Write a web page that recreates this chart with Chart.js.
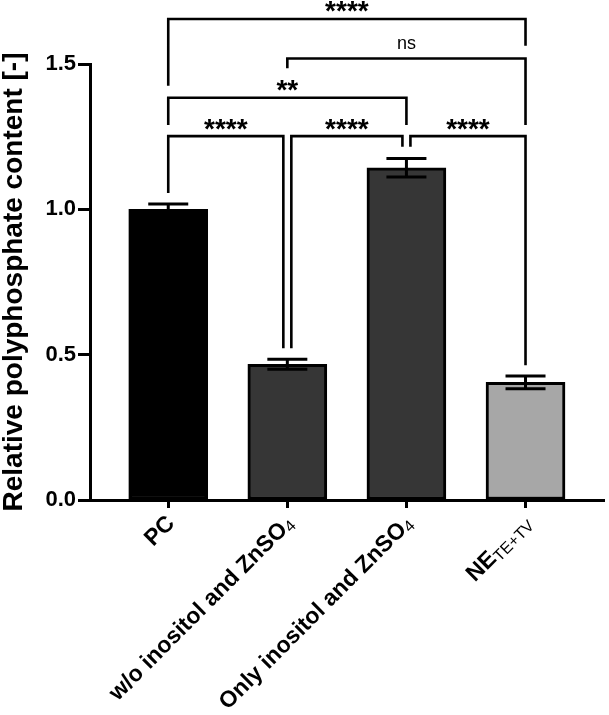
<!DOCTYPE html>
<html>
<head>
<meta charset="utf-8">
<script src="https://cdn.jsdelivr.net/npm/chart.js@4"></script>
<style>
	body { margin: 0; background: #fff; }
	#wrap { width: 609px; height: 715px; }
</style>
</head>
<body>
<div id="wrap"><canvas id="polyP"></canvas></div>
<script>
// categories (main text + subscript part)
const labels = ['PC', 'w/o inositol and ZnSO', 'Only inositol and ZnSO', 'NE'];
const labelSubs = ['', '4', '4', 'TE+TV'];

// bar values and error (+/-)
const means = [1.0, 0.467, 1.143, 0.405];
const errors = [0.018, 0.017, 0.032, 0.022];
const barColors = ['#000000', '#363636', '#363636', '#a7a7a7'];

const yTicks = [0, 0.5, 1.0, 1.5];

// significance brackets: from bar, to bar, bracket level, leg ends, text
const cmpFrom = [0, 1, 2, 0, 1, 0];
const cmpTo = [1, 2, 3, 2, 3, 3];
const cmpLevel = [1.252, 1.252, 1.252, 1.384, 1.519, 1.655];
const cmpLegFrom = [1.056, 0.522, 1.215, 1.29, 1.485, 1.425];
const cmpLegTo = [0.522, 1.215, 0.464, 1.29, 1.29, 1.563];
const cmpText = ['****', '****', '****', '**', 'ns', '****'];

const FONT = '"Liberation Sans", Arial, Helvetica, sans-serif';
Chart.defaults.font.family = FONT;
Chart.defaults.color = '#000';

const extras = {
	id: 'extras',
	afterDraw(chart) {
		const ctx = chart.ctx;
		const xs = chart.scales.x;
		const ys = chart.scales.y;
		ctx.save();
		ctx.strokeStyle = '#000';
		ctx.fillStyle = '#000';
		ctx.lineCap = 'butt';

		// error bars
		ctx.lineWidth = 3;
		means.forEach((m, i) => {
			const x = xs.getPixelForValue(i);
			const yt = ys.getPixelForValue(m + errors[i]);
			const yb = ys.getPixelForValue(m - errors[i]);
			ctx.beginPath();
			ctx.moveTo(x, yt); ctx.lineTo(x, yb);
			ctx.moveTo(x - 20, yt); ctx.lineTo(x + 20, yt);
			ctx.moveTo(x - 20, yb); ctx.lineTo(x + 20, yb);
			ctx.stroke();
		});

		// brackets
		ctx.lineWidth = 2.6;
		ctx.lineJoin = 'miter';
		cmpFrom.forEach((a, i) => {
			const b = cmpTo[i];
			let sl = 0, sr = 0;
			cmpFrom.forEach((a2, j) => {
				if (j !== i && cmpLevel[j] === cmpLevel[i]) {
					if (cmpTo[j] === a) sl = 4;
					if (a2 === b) sr = -4;
				}
			});
			const x1 = xs.getPixelForValue(a) + sl;
			const x2 = xs.getPixelForValue(b) + sr;
			const y = ys.getPixelForValue(cmpLevel[i]);
			ctx.beginPath();
			ctx.moveTo(x1, ys.getPixelForValue(cmpLegFrom[i]));
			ctx.lineTo(x1, y);
			ctx.lineTo(x2, y);
			ctx.lineTo(x2, ys.getPixelForValue(cmpLegTo[i]));
			ctx.stroke();

			const txt = cmpText[i];
			ctx.font = txt === 'ns' ? '18px ' + FONT : 'bold 28px ' + FONT;
			ctx.textAlign = 'center';
			ctx.textBaseline = 'alphabetic';
			const mt = ctx.measureText(txt);
			const cy = y - (txt === 'ns' ? 14 : 12);
			ctx.fillText(txt, (x1 + x2) / 2, cy + (mt.actualBoundingBoxAscent - mt.actualBoundingBoxDescent) / 2);
		});

		// rotated category labels with subscripts
		const mainFont = 'bold 23px ' + FONT;
		const subFont = '16px ' + FONT;
		labels.forEach((lab, i) => {
			const x = xs.getPixelForValue(i) + 3;
			const y = xs.top + 20;
			ctx.save();
			ctx.translate(x, y);
			ctx.rotate(-Math.PI / 4);
			ctx.textAlign = 'left';
			ctx.textBaseline = 'middle';
			ctx.font = subFont;
			const ws = labelSubs[i] ? ctx.measureText(labelSubs[i]).width : 0;
			ctx.font = mainFont;
			const wm = ctx.measureText(lab).width;
			ctx.fillText(lab, -(wm + ws), 0);
			if (labelSubs[i]) {
				ctx.font = subFont;
				ctx.fillText(labelSubs[i], -ws, 5);
			}
			ctx.restore();
		});
		ctx.restore();
	}
};

const config_polyP = {
	type: 'bar',
	data: {
		datasets: [{
			data: means.map((m, i) => ({ x: i, y: m })),
			backgroundColor: barColors,
			borderColor: '#000',
			borderWidth: 3,
			borderSkipped: false,
			barThickness: 79,
		}]
	},
	options: {
		responsive: true,
		maintainAspectRatio: false,
		animation: false,
		events: [],
		layout: { padding: { top: 64, right: 5, left: 0, bottom: 0 } },
		plugins: {
			legend: { display: false },
			tooltip: { enabled: false },
		},
		scales: {
			x: {
				type: 'linear',
				min: -0.657,
				max: 3.659,
				offset: false,
				afterBuildTicks: scale => { scale.ticks = labels.map((l, i) => ({ value: i })); },
				afterFit: scale => { scale.height = 215; },
				ticks: { display: false },
				grid: {
					offset: false,
					drawOnChartArea: false,
					drawTicks: true,
					tickLength: 8,
					tickWidth: 3,
					tickColor: '#000',
				},
				border: { display: true, color: '#000', width: 3 },
			},
			y: {
				min: 0,
				max: 1.5,
				afterBuildTicks: scale => { scale.ticks = yTicks.map(v => ({ value: v })); },
				afterFit: scale => { scale.width = 90; },
				ticks: {
					padding: 2,
					font: { size: 22, weight: 'bold' },
					color: '#000',
					callback: v => v.toFixed(1),
				},
				grid: {
					drawOnChartArea: false,
					drawTicks: true,
					tickLength: 12,
					tickWidth: 3,
					tickColor: '#000',
				},
				border: { display: true, color: '#000', width: 3 },
				title: {
					display: true,
					text: 'Relative polyphosphate content [-]',
					font: { size: 28, weight: 'bold', lineHeight: 1 },
					padding: 0,
					color: '#000',
				},
			},
		}
	},
	plugins: [extras],
};

const polyP = new Chart(document.getElementById('polyP'), config_polyP);
</script>
</body>
</html>
